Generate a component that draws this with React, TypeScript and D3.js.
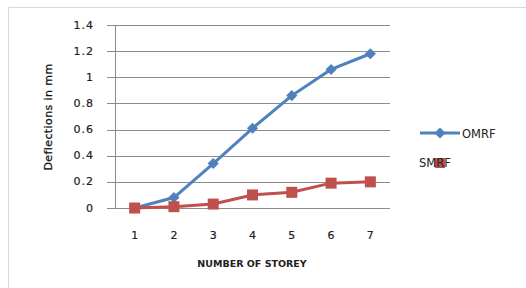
import * as d3 from 'd3'

const W = 526
const H = 288

const storeys = ['1', '2', '3', '4', '5', '6', '7']
const omrf = [0, 0.08, 0.34, 0.61, 0.86, 1.06, 1.18]
const smrf = [0, 0.01, 0.03, 0.1, 0.12, 0.19, 0.2]
const yTicks = [0, 0.2, 0.4, 0.6, 0.8, 1, 1.2, 1.4]

const BLUE = '#4F81BD'
const RED = '#C0504D'
const FONT = '"DejaVu Sans", sans-serif'

export default function App() {
  const x = d3.scalePoint().domain(storeys).range([115, 390]).padding(0.5)
  const y = d3.scaleLinear().domain([0, 1.4]).range([208, 25])

  const line = d3
    .line<number>()
    .x((_, i) => x(storeys[i]) ?? 0)
    .y((d) => y(d))

  // rotated square reads closer to the spreadsheet diamond than symbolDiamond
  const diamond = d3.symbol().type(d3.symbolSquare).size(62)() ?? ''

  return (
    <div style={{ position: 'absolute', left: 0, top: 0 }}>
      <svg width={W} height={H} style={{ display: 'block' }}>
        <rect x={0} y={0} width={W} height={H} fill="#fff" />
        {/* outer frame */}
        <path d={`M8.5,${H}V7.5H${W}`} fill="none" stroke="#d9d9d9" strokeWidth={1} />

        {/* gridlines + y ticks */}
        {yTicks.map((t) => (
          <g key={t}>
            <line x1={107} x2={390} y1={Math.round(y(t)) + 0.5} y2={Math.round(y(t)) + 0.5} stroke="#8c8c8c" />
            <text
              x={94}
              y={y(t)}
              textAnchor="end"
              dominantBaseline="central"
              fontFamily={FONT}
              fontSize={11}
              letterSpacing={1}
              fill="#222"
              stroke="#222"
              strokeWidth={0.2}
            >
              {t}
            </text>
          </g>
        ))}
        <line x1={115.5} x2={115.5} y1={y(1.4)} y2={y(0)} stroke="#8c8c8c" />

        {/* x tick labels */}
        {storeys.map((s) => (
          <text
            key={s}
            x={x(s)}
            y={235}
            textAnchor="middle"
            dominantBaseline="central"
            fontFamily={FONT}
            fontSize={11}
            fill="#222"
            stroke="#222"
            strokeWidth={0.2}
          >
            {s}
          </text>
        ))}

        <text
          x={252}
          y={263}
          textAnchor="middle"
          dominantBaseline="central"
          fontFamily={FONT}
          fontSize={9.5}
          fontWeight="bold"
          fill="#222"
        >
          NUMBER OF STOREY
        </text>
        <text
          transform={`translate(48,117) rotate(-90)`}
          textAnchor="middle"
          dominantBaseline="central"
          fontFamily={FONT}
          fontSize={11}
          letterSpacing={0.4}
          fill="#111"
          stroke="#111"
          strokeWidth={0.25}
        >
          Deflections in mm
        </text>

        {/* series */}
        <path d={line(omrf) ?? ''} fill="none" stroke={BLUE} strokeWidth={3} />
        {omrf.map((v, i) => (
          <path
            key={i}
            d={diamond}
            transform={`translate(${x(storeys[i])},${y(v)}) rotate(45)`}
            fill={BLUE}
          />
        ))}
        <path d={line(smrf) ?? ''} fill="none" stroke={RED} strokeWidth={3} />
        {smrf.map((v, i) => (
          <rect
            key={i}
            x={(x(storeys[i]) ?? 0) - 5.5}
            y={y(v) - 5.5}
            width={11}
            height={11}
            fill={RED}
          />
        ))}

        {/* legend */}
        <line x1={420} x2={460} y1={133} y2={133} stroke={BLUE} strokeWidth={3} />
        <path d={diamond} transform="translate(440,133) rotate(45)" fill={BLUE} />
        <text x={462} y={134} dominantBaseline="central" fontFamily={FONT} fontSize={11.5} fill="#222">
          OMRF
        </text>
        <rect x={435} y={158} width={10} height={10} fill={RED} />
        <text x={419} y={163} dominantBaseline="central" fontFamily={FONT} fontSize={11.5} fill="#222">
          SMRF
        </text>
      </svg>
    </div>
  )
}
